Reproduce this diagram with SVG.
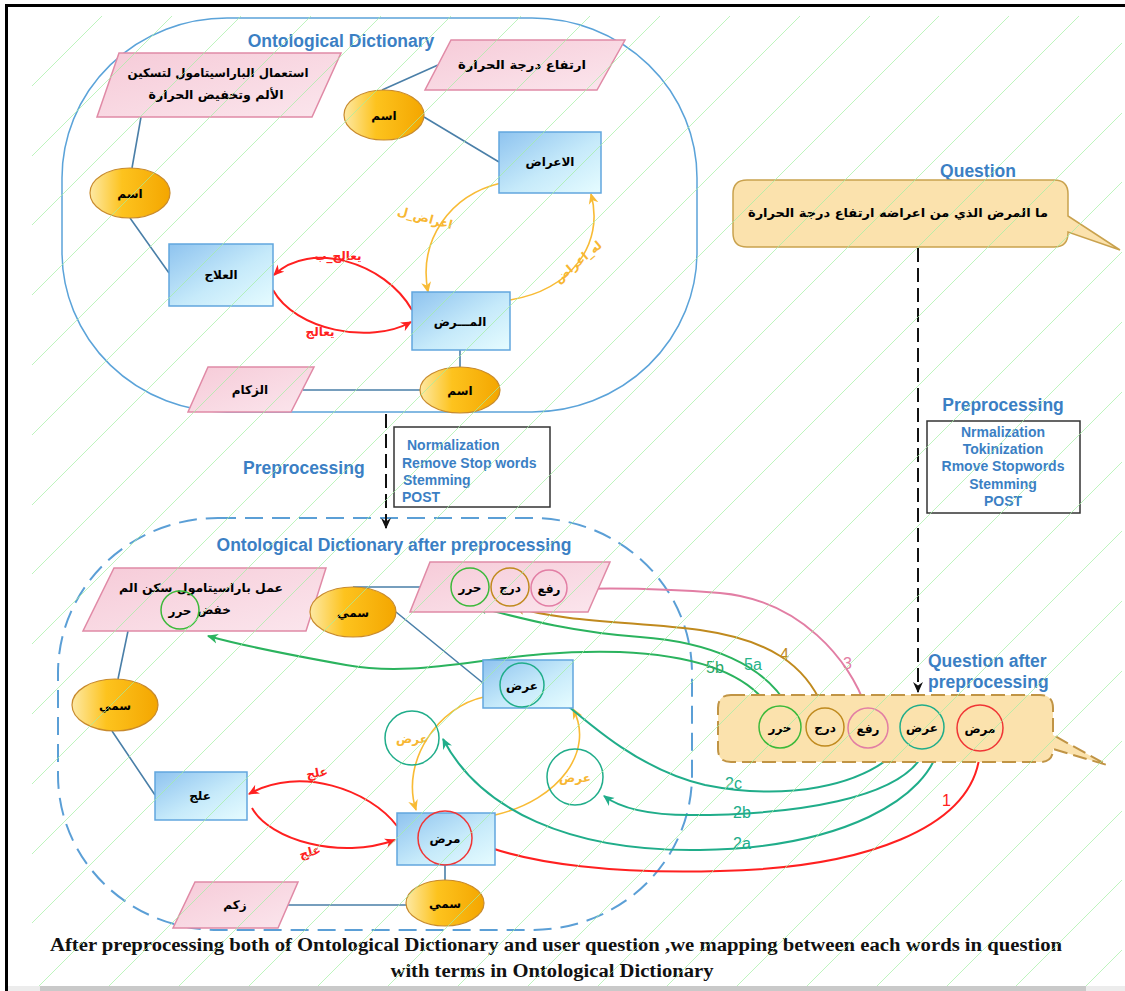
<svg xmlns="http://www.w3.org/2000/svg" width="1125" height="991" viewBox="0 0 1125 991">
<defs>
<linearGradient id="gBox" x1="0" y1="0" x2="1" y2="1"><stop offset="0" stop-color="#8ec3ef"/><stop offset="0.55" stop-color="#c6eafa"/><stop offset="1" stop-color="#e6fcff"/></linearGradient>
<linearGradient id="gEll" x1="0" y1="0" x2="1" y2="0"><stop offset="0" stop-color="#fde9a4"/><stop offset="0.4" stop-color="#fdc31e"/><stop offset="1" stop-color="#f4a600"/></linearGradient>
<linearGradient id="gPink" x1="0" y1="0" x2="1" y2="1"><stop offset="0" stop-color="#f6cbd8"/><stop offset="1" stop-color="#fbe6ed"/></linearGradient>
<clipPath id="hatchClip"><rect x="32" y="16" width="1090" height="970"/></clipPath>
<marker id="aRed" viewBox="0 0 10 10" refX="9" refY="5" markerWidth="11" markerHeight="11" markerUnits="userSpaceOnUse" orient="auto"><path d="M0,0.5 L10,5 L0,9.5 L3,5 z" fill="#ff2020"/></marker>
<marker id="aOr" viewBox="0 0 10 10" refX="9" refY="5" markerWidth="11" markerHeight="11" markerUnits="userSpaceOnUse" orient="auto"><path d="M0,0.5 L10,5 L0,9.5 L3,5 z" fill="#f8bb35"/></marker>
<marker id="aTeal" viewBox="0 0 10 10" refX="9" refY="5" markerWidth="11" markerHeight="11" markerUnits="userSpaceOnUse" orient="auto"><path d="M0,0.5 L10,5 L0,9.5 L3,5 z" fill="#20ad8a"/></marker>
<marker id="aGreen" viewBox="0 0 10 10" refX="9" refY="5" markerWidth="11" markerHeight="11" markerUnits="userSpaceOnUse" orient="auto"><path d="M0,0.5 L10,5 L0,9.5 L3,5 z" fill="#2bb35e"/></marker>
<marker id="aBrown" viewBox="0 0 10 10" refX="9" refY="5" markerWidth="11" markerHeight="11" markerUnits="userSpaceOnUse" orient="auto"><path d="M0,0.5 L10,5 L0,9.5 L3,5 z" fill="#c08a1e"/></marker>
<marker id="aPink" viewBox="0 0 10 10" refX="9" refY="5" markerWidth="11" markerHeight="11" markerUnits="userSpaceOnUse" orient="auto"><path d="M0,0.5 L10,5 L0,9.5 L3,5 z" fill="#e27ea4"/></marker>
<marker id="aBlack" viewBox="0 0 10 10" refX="9" refY="5" markerWidth="11" markerHeight="11" markerUnits="userSpaceOnUse" orient="auto"><path d="M0,0.5 L10,5 L0,9.5 L3,5 z" fill="#111"/></marker>
<style>
.ar{font-family:"DejaVu Sans",sans-serif;font-weight:bold;fill:#000;text-anchor:middle;dominant-baseline:central;font-size:12px}
.en{font-family:"Liberation Sans",Arial,sans-serif;font-weight:bold;fill:#3b7fc4}
.num{font-family:"Liberation Sans",Arial,sans-serif;font-size:16px}
.box{fill:url(#gBox);stroke:#62a6de;stroke-width:1.5}
.ell{fill:url(#gEll);stroke:#c88a2c;stroke-width:1.2}
.par{fill:url(#gPink);stroke:#e08aa6;stroke-width:1.5}
.lnk{stroke:#4a7fa8;stroke-width:1.6;fill:none}
.cg{fill:none;stroke:#3cb93a;stroke-width:1.5}
.cb{fill:none;stroke:#c08a1e;stroke-width:1.5}
.cp{fill:none;stroke:#e27ea4;stroke-width:1.5}
.ct{fill:none;stroke:#20ad8a;stroke-width:1.5}
.cr{fill:none;stroke:#f03535;stroke-width:1.5}
.red{fill:none;stroke:#ff2020;stroke-width:2}
.or{fill:none;stroke:#f8bb35;stroke-width:1.6}
.teal{fill:none;stroke:#20ad8a;stroke-width:2}
.green{fill:none;stroke:#2bb35e;stroke-width:2}
.brown{fill:none;stroke:#c08a1e;stroke-width:2}
.pink{fill:none;stroke:#e27ea4;stroke-width:2}
.dash{fill:none;stroke:#111;stroke-width:2;stroke-dasharray:14 6}
.otx{fill:#f7b733}
.rtx{fill:#ff2020}
</style>
</defs>
<rect x="0" y="0" width="1125" height="991" fill="#fff"/>
<!-- frame -->
<path d="M5 5.5 H1125 M6.5 4 V991" stroke="#000" stroke-width="3" fill="none"/>
<rect x="8" y="986" width="1117" height="5" fill="#ececec"/>
<rect x="40" y="986" width="1046" height="5" fill="#c9c9c9"/>

<!-- containers -->
<g id="dictionary">
<rect x="62" y="18" width="635" height="394" rx="165" ry="160" fill="none" stroke="#5ba3d9" stroke-width="1.5"/>
<text class="en" x="341" y="47" text-anchor="middle" font-size="17.5">Ontological Dictionary</text>
</g>
<g id="dictionary-after">
<rect x="58" y="518" width="634" height="412" rx="160" ry="155" fill="none" stroke="#5b9fd6" stroke-width="2" stroke-dasharray="18 9"/>
<text class="en" x="394" y="551" text-anchor="middle" font-size="17.5">Ontological Dictionary after preprocessing</text>
</g>

<!-- connectors -->
<g id="connectors">
<path class="lnk" d="M438 65 L382 90 M424 117 L499 162 M141 117 L132 168 M130 218 L169 273 M460 350 L460 367 M303 390 L420 390"/>
<path class="lnk" d="M353 587 L421 587 M396 612 L483 683 M128 631 L118 679 M112 731 L155 795 M445 865 L445 880 M288 905 L406 905"/>
<path class="red" d="M412 310 C385 262 310 240 274 275" marker-end="url(#aRed)"/>
<path class="red" d="M273 290 C295 330 370 345 411 322" marker-end="url(#aRed)"/>
<path class="or" d="M501 183 C450 195 418 240 428 292" marker-end="url(#aOr)"/>
<path class="or" d="M510 300 C570 290 605 245 591 194" marker-end="url(#aOr)"/>
<path class="red" d="M397 826 C370 790 300 765 249 794" marker-end="url(#aRed)"/>
<path class="red" d="M252 808 C270 840 340 860 395 840" marker-end="url(#aRed)"/>
<path class="or" d="M484 697 C440 706 400 760 416 810" marker-end="url(#aOr)"/>
<path class="or" d="M495 815 C560 800 595 750 573 709" marker-end="url(#aOr)"/>
<path class="dash" d="M386 414 V528" marker-end="url(#aBlack)"/>
<path class="dash" d="M918 248 V692" marker-end="url(#aBlack)"/>
<path class="red" d="M980 751 C975 830 860 868 720 871 C620 874 530 865 475 842" marker-end="url(#aRed)"/>
<path class="teal" d="M940 742 C930 800 840 848 700 850 C570 852 480 810 443 739" marker-end="url(#aTeal)"/>
<path class="teal" d="M925 750 C905 800 790 815 690 815 C650 815 620 808 604 796" marker-end="url(#aTeal)"/>
<path class="teal" d="M905 743 C865 790 780 800 705 785 C640 770 590 725 547 688" marker-end="url(#aTeal)"/>
<path class="green" d="M770 708 C745 670 690 655 620 652 C500 648 430 680 346 665 C290 655 240 645 208 636" marker-end="url(#aGreen)"/>
<path class="green" d="M788 707 C765 665 710 642 640 637 C570 632 520 618 477 607" marker-end="url(#aGreen)"/>
<path class="brown" d="M823 707 C805 665 770 640 700 630 C640 622 560 622 515 607" marker-end="url(#aBrown)"/>
<path class="pink" d="M866 708 C850 660 800 600 720 593 C660 588 610 588 572 589" marker-end="url(#aPink)"/>
<text class="ar rtx" x="338" y="256" font-size="13">يعالج_ب</text>
<text class="ar rtx" x="320" y="332" font-size="13">يعالج</text>
<text class="ar otx" x="425" y="218" font-size="12" transform="rotate(15 425 218)">اعراض_ل</text>
<text class="ar otx" x="578" y="262" font-size="12" transform="rotate(-40 578 262)">له_اعراض</text>
<text class="ar rtx" x="317" y="773" font-size="11" transform="rotate(-10 317 773)">علج</text>
<text class="ar rtx" x="310" y="852" font-size="11" transform="rotate(-15 310 852)">علج</text>
<text class="num" x="706" y="673" fill="#2aa866">5b</text>
<text class="num" x="744" y="670" fill="#27b38a">5a</text>
<text class="num" x="780" y="660" fill="#c08a1e">4</text>
<text class="num" x="843" y="669" fill="#e27ea4">3</text>
<text class="num" x="725" y="789" fill="#20ad8a">2c</text>
<text class="num" x="733" y="818" fill="#20ad8a">2b</text>
<text class="num" x="733" y="849" fill="#20ad8a">2a</text>
<text class="num" x="942" y="806" fill="#ff2020">1</text>
</g>

<!-- top dictionary nodes -->
<g id="n-paracetamol">
<polygon class="par" points="119,53 341,53 312,117 97,117"/>
<text class="ar" x="218" y="73" font-size="14" textLength="181" lengthAdjust="spacingAndGlyphs">استعمال الباراسيتامول لتسكين</text>
<text class="ar" x="216" y="95" font-size="14" textLength="135" lengthAdjust="spacingAndGlyphs">الألم وتخفيض الحرارة</text>
</g>
<g id="n-fever">
<polygon class="par" points="451,40 625,40 597,90 425,90"/>
<text class="ar" x="522" y="65" font-size="14" textLength="128" lengthAdjust="spacingAndGlyphs">ارتفاع درجة الحرارة</text>
</g>
<g id="n-name1"><ellipse class="ell" cx="384" cy="115" rx="40" ry="25"/><text class="ar" x="384" y="116">اسم</text></g>
<g id="n-symptoms"><rect class="box" x="499" y="132" width="102" height="61"/><text class="ar" x="550" y="162" font-size="13">الاعراض</text></g>
<g id="n-name2"><ellipse class="ell" cx="130" cy="193" rx="40" ry="25"/><text class="ar" x="130" y="194">اسم</text></g>
<g id="n-treatment"><rect class="box" x="169" y="244" width="104" height="62"/><text class="ar" x="221" y="275" font-size="13">العلاج</text></g>
<g id="n-disease"><rect class="box" x="412" y="292" width="98" height="58"/><text class="ar" x="460" y="322" font-size="13">المـــرض</text></g>
<g id="n-cold"><polygon class="par" points="208,367 314,367 291,412 188,412"/><text class="ar" x="250" y="390" font-size="13">الزكام</text></g>
<g id="n-name3"><ellipse class="ell" cx="460" cy="390" rx="40" ry="23"/><text class="ar" x="460" y="391">اسم</text></g>

<!-- preprocessing -->
<g id="prep-left">
<text class="en" x="243" y="474" font-size="17.5">Preprocessing</text>
<rect x="394" y="427" width="156" height="80" fill="#fff" stroke="#333" stroke-width="1.5"/>
<text class="en" font-size="14"><tspan x="407" y="450">Normalization</tspan><tspan x="402" y="468">Remove Stop words</tspan><tspan x="403" y="485">Stemming</tspan><tspan x="402" y="502">POST</tspan></text>
</g>
<g id="prep-right">
<text class="en" x="1003" y="411" text-anchor="middle" font-size="17.5">Preprocessing</text>
<rect x="927" y="421" width="153" height="92" fill="#fff" stroke="#333" stroke-width="1.5"/>
<text class="en" font-size="14" text-anchor="middle"><tspan x="1003" y="437">Nrmalization</tspan><tspan x="1003" y="454">Tokinization</tspan><tspan x="1003" y="471">Rmove Stopwords</tspan><tspan x="1003" y="489">Stemming</tspan><tspan x="1003" y="506">POST</tspan></text>
</g>

<!-- question -->
<g id="question">
<text class="en" x="978" y="177" text-anchor="middle" font-size="17.5">Question</text>
<path d="M747 180 H1054 Q1068 180 1068 194 V216 L1120 250 L1068 232 V233 Q1068 247 1054 247 H747 Q733 247 733 233 V194 Q733 180 747 180 Z" fill="#fbe2ad" stroke="#c9a24e" stroke-width="1.5"/>
<text class="ar" x="898" y="213" font-size="14" textLength="300" lengthAdjust="spacingAndGlyphs">ما المرض الذي من اعراضه  ارتفاع  درجة  الحرارة</text>
</g>

<!-- question after preprocessing -->
<g id="question-after">
<text class="en" font-size="17.5"><tspan x="928" y="667">Question after</tspan><tspan x="928" y="688">preprocessing</tspan></text>
<path d="M731 695 H1040 Q1053 695 1053 708 V735 L1107 765 L1053 749 Q1053 762 1040 762 H731 Q718 762 718 749 V708 Q718 695 731 695 Z" fill="#fbe2ad" stroke="#c09445" stroke-width="2" stroke-dasharray="14 6"/>
<circle class="cg" cx="780" cy="727" r="21"/><text class="ar" x="780" y="728">حرر</text>
<circle class="cb" cx="825" cy="727" r="19"/><text class="ar" x="825" y="728">درج</text>
<circle class="cp" cx="868" cy="728" r="20"/><text class="ar" x="868" y="729">رفع</text>
<circle class="ct" cx="922" cy="727" r="22"/><text class="ar" x="922" y="728">عرض</text>
<circle class="cr" cx="980" cy="728" r="23"/><text class="ar" x="980" y="729">مرض</text>
</g>

<!-- dictionary after preprocessing nodes -->
<g id="m-paracetamol">
<polygon class="par" points="114,568 326,568 306,631 83,631"/>
<text class="ar" x="201" y="588" font-size="13" textLength="164" lengthAdjust="spacingAndGlyphs">عمل باراسيتامول سكن الم</text>
<text class="ar" x="214" y="610" font-size="13">خفض</text>
<circle class="cg" cx="180" cy="610" r="19"/><text class="ar" x="180" y="611" font-size="13">حرر</text>
</g>
<g id="m-fever">
<polygon class="par" points="430,562 610,562 588,612 410,612"/>
<circle class="cg" cx="470" cy="587" r="19"/><text class="ar" x="470" y="588" font-size="13">حرر</text>
<circle class="cb" cx="510" cy="587" r="19"/><text class="ar" x="510" y="588" font-size="13">درج</text>
<circle class="cp" cx="549" cy="588" r="18"/><text class="ar" x="549" y="589" font-size="13">رفع</text>
</g>
<g id="m-name1"><ellipse class="ell" cx="353" cy="612" rx="43" ry="25"/><text class="ar" x="353" y="613">سمي</text></g>
<g id="m-symptoms"><rect class="box" x="483" y="660" width="90" height="48"/><circle class="ct" cx="522" cy="685" r="22"/><text class="ar" x="522" y="686" font-size="13">عرض</text></g>
<g id="m-name2"><ellipse class="ell" cx="115" cy="705" rx="43" ry="26"/><text class="ar" x="115" y="706">سمي</text></g>
<g id="m-treatment"><rect class="box" x="155" y="772" width="92" height="48"/><text class="ar" x="200" y="796" font-size="13">علج</text></g>
<g id="m-disease"><rect class="box" x="397" y="813" width="98" height="52"/><circle class="cr" cx="445" cy="838" r="27"/><text class="ar" x="445" y="839" font-size="13">مرض</text></g>
<g id="m-cold"><polygon class="par" points="195,882 298,882 278,928 173,928"/><text class="ar" x="235" y="905" font-size="13">زكم</text></g>
<g id="m-name3"><ellipse class="ell" cx="445" cy="903" rx="39" ry="23"/><text class="ar" x="445" y="904">سمي</text></g>
<g id="m-rel1"><circle class="ct" cx="412" cy="738" r="27"/><text class="ar otx" x="412" y="739">عرض</text></g>
<g id="m-rel2"><circle class="ct" cx="575" cy="777" r="28"/><text class="ar otx" x="575" y="778">عرض</text></g>

<!-- caption -->
<g id="caption" font-family="'Liberation Serif','Times New Roman',serif" font-weight="bold" font-size="18" text-anchor="middle" fill="#111">
<text x="556" y="951" textLength="1012" lengthAdjust="spacingAndGlyphs">After preprocessing both of Ontological Dictionary and user question ,we mapping between each words in question</text>
<text x="552" y="977" textLength="323" lengthAdjust="spacingAndGlyphs">with terms in Ontological Dictionary</text>
</g>

<!-- background hatch (drawn over) -->
<path clip-path="url(#hatchClip)" fill="none" stroke="#a3f0a3" stroke-width="1" opacity="0.7" d="M-952 1000L48 0M-882 1000L118 0M-812 1000L188 0M-743 1000L257 0M-673 1000L327 0M-603 1000L397 0M-533 1000L467 0M-463 1000L537 0M-394 1000L606 0M-324 1000L676 0M-254 1000L746 0M-184 1000L816 0M-114 1000L886 0M-45 1000L955 0M25 1000L1025 0M95 1000L1095 0M165 1000L1165 0M235 1000L1235 0M304 1000L1304 0M374 1000L1374 0M444 1000L1444 0M514 1000L1514 0M584 1000L1584 0M653 1000L1653 0M723 1000L1723 0M793 1000L1793 0M863 1000L1863 0M933 1000L1933 0M1002 1000L2002 0M1072 1000L2072 0"/>
</svg>
